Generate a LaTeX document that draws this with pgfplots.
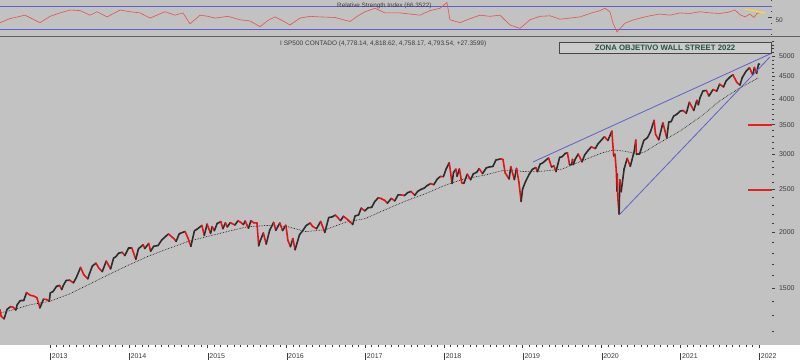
\documentclass[border=0pt]{standalone}
\usepackage{fontspec}
\setmainfont{Liberation Sans}
\usepackage{pgfplots}
\pgfplotsset{compat=1.18}
\usepackage{pgfplotstable}
\definecolor{bg}{RGB}{194,194,194}
\definecolor{blu}{RGB}{95,95,205}
\definecolor{candred}{RGB}{228,20,20}
\definecolor{candblk}{RGB}{45,45,45}
\definecolor{zona}{RGB}{35,85,65}
\definecolor{rsired}{RGB}{230,80,80}
\definecolor{txt}{RGB}{60,60,60}
\definecolor{lvlred}{RGB}{235,30,30}
\newcommand{\yr}[1]{\mbox{\rule[-1.5pt]{0.5pt}{7pt}\,#1}}

\pgfplotstableread{
x y d
2012.365 1340 1
2012.380 1295 1
2012.417 1278 0
2012.455 1343 0
2012.500 1362 1
2012.533 1357 1
2012.566 1338 0
2012.583 1375 0
2012.622 1405 0
2012.667 1406 0
2012.702 1465 1
2012.750 1444 1
2012.788 1440 1
2012.833 1427 1
2012.872 1353 0
2012.917 1416 1
2012.955 1413 1
2012.991 1402 0
2013.003 1462 0
2013.038 1472 0
2013.083 1513 0
2013.122 1520 1
2013.149 1488 0
2013.167 1518 0
2013.205 1560 0
2013.250 1562 1
2013.297 1541 0
2013.333 1582 0
2013.388 1669 1
2013.428 1608 1
2013.480 1573 0
2013.500 1614 0
2013.538 1682 0
2013.583 1706 1
2013.622 1661 1
2013.663 1633 0
2013.714 1725 1
2013.769 1656 0
2013.808 1754 0
2013.833 1762 0
2013.872 1798 0
2013.917 1805 1
2013.950 1775 0
2013.999 1848 0
2014.038 1848 1
2014.089 1741 0
2014.122 1838 0
2014.183 1878 1
2014.202 1841 0
2014.253 1890 1
2014.277 1815 0
2014.316 1863 0
2014.372 1870 0
2014.417 1923 0
2014.469 1962 0
2014.505 1985 1
2014.544 1958 1
2014.582 1931 1
2014.600 1910 0
2014.641 1988 0
2014.714 2011 1
2014.750 1946 1
2014.788 1862 0
2014.833 2018 0
2014.872 2039 0
2014.928 2075 1
2014.958 1972 0
2014.994 2090 1
2015.038 1992 0
2015.058 2063 1
2015.086 2020 0
2015.122 2097 0
2015.169 2117 1
2015.194 2040 0
2015.227 2104 1
2015.250 2059 0
2015.288 2106 1
2015.347 2080 0
2015.386 2126 1
2015.417 2111 1
2015.455 2084 0
2015.477 2124 1
2015.519 2046 0
2015.552 2128 1
2015.583 2104 1
2015.627 2102 1
2015.649 1867 0
2015.667 1914 0
2015.708 1996 1
2015.744 1884 0
2015.788 2023 0
2015.839 2109 1
2015.866 2023 0
2015.917 2102 1
2015.952 2021 0
2015.994 2078 1
2016.019 1922 1
2016.052 1859 0
2016.083 1940 1
2016.111 1829 0
2016.167 1978 0
2016.205 2016 0
2016.250 2073 0
2016.302 2102 1
2016.333 2065 1
2016.383 2040 0
2016.436 2119 1
2016.488 2001 0
2016.538 2162 0
2016.583 2170 0
2016.622 2190 1
2016.689 2128 0
2016.725 2177 1
2016.786 2133 1
2016.842 2085 0
2016.872 2180 0
2016.917 2191 0
2016.950 2271 1
2016.996 2239 0
2017.038 2275 0
2017.083 2279 0
2017.122 2349 0
2017.167 2396 1
2017.205 2385 1
2017.250 2363 1
2017.283 2329 0
2017.333 2388 1
2017.377 2357 0
2017.417 2431 0
2017.455 2433 1
2017.500 2423 0
2017.538 2459 0
2017.583 2476 1
2017.630 2426 0
2017.667 2476 0
2017.705 2500 0
2017.750 2519 0
2017.788 2553 0
2017.833 2579 1
2017.872 2564 0
2017.917 2642 0
2017.955 2675 1
2017.994 2674 0
2018.030 2786 0
2018.068 2873 1
2018.103 2581 0
2018.122 2731 0
2018.152 2780 1
2018.167 2678 0
2018.197 2783 1
2018.227 2588 1
2018.253 2582 0
2018.297 2708 1
2018.339 2630 0
2018.372 2711 0
2018.417 2735 0
2018.447 2787 1
2018.491 2716 0
2018.538 2798 0
2018.583 2813 0
2018.622 2818 0
2018.660 2914 0
2018.719 2931 1
2018.750 2924 1
2018.777 2728 1
2018.827 2641 0
2018.850 2814 1
2018.894 2633 0
2018.922 2790 1
2018.952 2600 1
2018.980 2351 0
2018.999 2507 0
2019.038 2610 0
2019.083 2707 0
2019.122 2775 0
2019.167 2803 1
2019.186 2743 0
2019.222 2855 0
2019.250 2867 0
2019.288 2905 0
2019.329 2946 1
2019.366 2812 0
2019.397 2826 1
2019.423 2744 0
2019.469 2954 0
2019.500 2964 0
2019.538 3014 0
2019.568 3025 1
2019.595 2844 0
2019.622 2847 0
2019.633 2923 1
2019.644 2847 0
2019.667 2926 0
2019.705 3007 1
2019.753 2887 0
2019.788 2995 0
2019.833 3066 0
2019.872 3120 1
2019.922 3093 0
2019.955 3168 0
2019.999 3231 0
2020.038 3289 1
2020.082 3226 0
2020.132 3386 1
2020.155 2979 0
2020.172 3003 1
2020.189 2747 1
2020.197 2481 0
2020.200 2711 1
2020.208 2386 1
2020.224 2200 0
2020.233 2630 1
2020.250 2471 0
2020.288 2784 0
2020.327 2939 1
2020.366 2820 0
2020.417 3055 0
2020.436 3232 1
2020.444 3002 0
2020.485 3009 0
2020.538 3227 0
2020.583 3271 0
2020.622 3373 0
2020.669 3580 1
2020.686 3332 1
2020.727 3237 0
2020.780 3534 1
2020.829 3270 0
2020.855 3550 0
2020.885 3557 0
2020.917 3662 0
2020.955 3694 0
2020.999 3756 0
2021.038 3768 1
2021.077 3714 0
2021.116 3934 1
2021.172 3768 0
2021.211 3975 1
2021.230 3881 0
2021.250 4020 0
2021.288 4170 0
2021.333 4181 1
2021.364 4063 0
2021.417 4202 1
2021.463 4166 0
2021.500 4320 1
2021.549 4258 0
2021.583 4395 0
2021.622 4468 0
2021.669 4537 1
2021.719 4358 1
2021.758 4300 0
2021.788 4471 0
2021.833 4613 0
2021.880 4704 1
2021.912 4567 1
2021.922 4538 0
2021.942 4712 1
2021.969 4568 0
2021.994 4793 0
2022.008 4794 0
}\price

\pgfplotstableread{
x y
2012.365 1318
2012.500 1335
2012.750 1375
2013.000 1400
2013.250 1455
2013.500 1530
2013.750 1610
2014.000 1690
2014.250 1770
2014.500 1840
2014.750 1910
2015.000 1960
2015.250 2010
2015.500 2060
2015.750 2075
2016.000 2065
2016.250 2010
2016.500 2030
2016.750 2110
2017.000 2150
2017.250 2250
2017.500 2350
2017.750 2440
2018.000 2550
2018.250 2640
2018.500 2690
2018.750 2760
2018.900 2765
2019.000 2745
2019.250 2750
2019.500 2780
2019.750 2900
2020.000 3020
2020.150 3070
2020.300 3050
2020.450 3010
2020.550 3040
2020.700 3160
2020.850 3270
2021.000 3390
2021.250 3640
2021.500 3960
2021.750 4230
2022.000 4470
}\mavg

\pgfplotstableread{
x y
2012.365 41
2012.490 48
2012.683 54
2012.784 47
2012.873 41
2013.000 52
2013.127 58
2013.254 63
2013.381 62
2013.508 54
2013.597 60
2013.724 51
2013.889 63
2014.016 60
2014.142 58
2014.269 49
2014.460 60
2014.587 54
2014.688 58
2014.777 39
2014.904 54
2015.006 52
2015.094 49
2015.260 52
2015.412 46
2015.539 44
2015.666 34
2015.767 45
2015.856 51
2015.958 44
2016.046 37
2016.173 49
2016.300 52
2016.427 51
2016.618 50
2016.808 43
2016.910 53
2016.998 60
2017.125 66
2017.252 58
2017.443 58
2017.570 56
2017.697 54
2017.824 62
2017.950 66
2018.039 76
2018.077 46
2018.204 41
2018.331 48
2018.458 54
2018.585 52
2018.712 54
2018.839 37
2018.966 31
2019.093 46
2019.220 52
2019.347 53
2019.474 47
2019.601 49
2019.728 51
2019.855 57
2019.982 62
2020.045 66
2020.108 60
2020.147 40
2020.197 25
2020.299 40
2020.388 45
2020.490 49
2020.617 53
2020.744 56
2020.870 54
2020.997 58
2021.124 57
2021.251 60
2021.378 58
2021.505 57
2021.606 59
2021.695 63
2021.758 55
2021.822 51
2021.885 56
2021.936 50
2021.974 57
2022.000 58
}\rsi

\begin{document}
\begin{tikzpicture}
\useasboundingbox (0pt,0pt) rectangle (800pt,363pt);
\fill[bg] (0pt,18pt) rectangle (800pt,363pt);
\fill[white] (0pt,0pt) rectangle (800pt,18pt);
\draw[gray!75!black, line width=1.2pt] (0pt,326.5pt) -- (800pt,326.5pt);

\begin{axis}[
  at={(0pt,327pt)}, anchor=south west, scale only axis,
  width=772pt, height=36pt,
  xmin=2012.365, xmax=2022.165, ymin=17.83, ymax=80.43,
  axis line style={draw=none},
  axis y line*=right,
  xtick=\empty,
  ytick={50}, yticklabels={\mbox{50}},
  minor ytick={20,30,40,60,70,80},
  tick style={txt, line width=0.5pt},
  major tick length=4pt, minor tick length=1.5pt,
  yticklabel style={font=\fontsize{6.5}{7}\selectfont, text=txt, yshift=-3pt},
  clip=false,
]
\addplot[blu, line width=0.9pt] coordinates {(2012.365,70) (2022.165,70)};
\addplot[blu, line width=0.9pt] coordinates {(2012.365,30) (2022.165,30)};
\addplot[rsired, line width=0.6pt] table[x=x,y=y]{\rsi};
\addplot[yellow!90!orange, line width=1pt] coordinates {(2021.822,64.8) (2022.076,57.8)};
\end{axis}
\node[anchor=west, inner sep=0pt, font=\fontsize{6.3}{7}\selectfont, text=txt] at (337pt,357.5pt) {Relative Strength Index (66.3522)};

\begin{axis}[
  at={(0pt,18pt)}, anchor=south west, scale only axis,
  width=772pt, height=307pt,
  xmin=2012.365, xmax=2022.165,
  ymode=log, ymin=1116, ymax=5490,
  axis line style={draw=none},
  axis x line*=bottom, axis y line*=right,
  tick align=outside,
  xtick={2013,2014,2015,2016,2017,2018,2019,2020,2021,2022},
  xticklabels={\yr{2013},\yr{2014},\yr{2015},\yr{2016},\yr{2017},\yr{2018},\yr{2019},\yr{2020},\yr{2021},\yr{2022}},
  minor x tick num=11,
  ytick={1500,2000,2500,3000,3500,4000,4500,5000},
  yticklabels={\mbox{1500},\mbox{2000},\mbox{2500},\mbox{3000},\mbox{3500},\mbox{4000},\mbox{4500},\mbox{5000}},
  minor ytick={1200,1300,1400,1600,1700,1800,1900,2100,2200,2300,2400,2600,2700,2800,2900,3100,3200,3300,3400,3600,3700,3800,3900,4100,4200,4300,4400,4600,4700,4800,4900,5100,5200,5300,5400},
  tick style={txt, line width=0.5pt},
  major tick length=3.5pt, minor tick length=2.5pt,
  xticklabel style={font=\fontsize{7}{8}\selectfont, text=txt, anchor=north west, inner xsep=0pt, yshift=-1pt},
  yticklabel style={font=\fontsize{7}{8}\selectfont, text=txt},
  clip=false,
]
\addplot[lvlred, line width=2pt] coordinates {(2021.86,2500) (2022.165,2500)};
\addplot[lvlred, line width=2pt] coordinates {(2021.86,3500) (2022.165,3500)};
\addplot[black, densely dotted, line width=0.6pt] table[x=x,y=y]{\mavg};
\addplot[mesh, shader=flat corner, point meta=\thisrow{d}, point meta min=0, point meta max=1,
  colormap={rb}{color(0)=(candblk) color(1)=(candred)}, line width=1.6pt, line cap=round]
  table[x=x,y=y]{\price};
\addplot[blu, line width=0.8pt] coordinates {(2019.131,2885) (2022.139,5052)};
\addplot[blu, line width=0.8pt] coordinates {(2020.224,2191) (2022.139,4974)};
\end{axis}
\node[anchor=west, inner sep=0pt, font=\fontsize{6.5}{7}\selectfont, text=txt] at (280pt,319.5pt) {I SP500 CONTADO (4,778.14, 4,818.62, 4,758.17, 4,793.54, +27.3599)};
\draw[gray!55!black, line width=0.6pt, fill=bg!85!white] (559pt,310pt) rectangle (771pt,320.5pt);
\node[font=\bfseries\fontsize{7.8}{8}\selectfont, text=zona, inner sep=0pt] at (665pt,315.2pt) {ZONA OBJETIVO WALL STREET 2022};
\end{tikzpicture}
\end{document}
